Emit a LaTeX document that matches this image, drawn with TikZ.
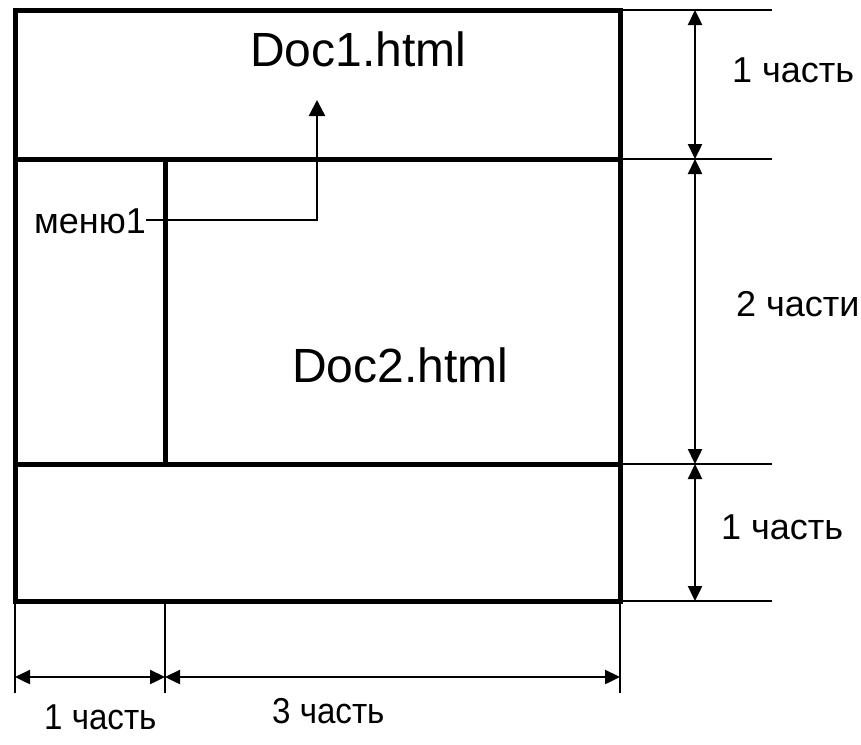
\documentclass[tikz,border=0pt]{standalone}
\usepackage{fontspec}
\setmainfont{Liberation Sans}
\usetikzlibrary{arrows.meta}

\begin{document}
\begin{tikzpicture}[x=1pt,y=-1pt,
  frame/.style={line width=5pt},
  guide/.style={line width=1.8pt},
  dimarrow/.style={line width=2.4pt,{Triangle[length=15pt,width=14pt]}-{Triangle[length=15pt,width=14pt]}},
  doc/.style={anchor=base west,inner sep=0pt,font=\fontsize{48}{52}\selectfont},
  part/.style={anchor=base west,inner sep=0pt,font=\fontsize{36}{40}\selectfont}]

\useasboundingbox (0,0) rectangle (861,744);

% frames
\coordinate (a1) at (15,10);   \coordinate (a2) at (620,10);
\coordinate (b1) at (15,159);  \coordinate (b2) at (620,159);
\coordinate (c1) at (15,464);  \coordinate (c2) at (620,464);
\coordinate (d1) at (15,601);  \coordinate (d2) at (620,601);
\coordinate (m1) at (165,159); \coordinate (m2) at (165,464);

\draw[frame] (a1) rectangle (d2);
\draw[frame] (b1) -- (b2);
\draw[frame] (c1) -- (c2);
\draw[frame] (m1) -- (m2);

\node[doc] (doc1) at (250,66) {Doc1.html};
\node[doc] (doc2) at (292,382) {Doc2.html};
\node[part,anchor=base east] (menu) at (146,233) {меню1};

\coordinate (bend) at (317,220);
\coordinate (target) at (317,100);
\draw[line width=2.4pt,-{Triangle[length=16pt,width=16pt]}] (menu.east |- bend) -- (bend) -- (target);

% right side
\coordinate (ra) at (772,10);  \coordinate (rb) at (772,159);
\coordinate (rc) at (772,464); \coordinate (rd) at (772,601);
\draw[guide] (a2) -- (ra);
\draw[guide] (b2) -- (rb);
\draw[guide] (c2) -- (rc);
\draw[guide] (d2) -- (rd);

\draw[dimarrow] (695,10) -- (695,159);
\draw[dimarrow] (695,159) -- (695,464);
\draw[dimarrow] (695,464) -- (695,601);

\node[part] (h1) at (732,82) {1 часть};
\node[part] (h2) at (736,316) {2 части};
\node[part] (h3) at (721,539) {1 часть};

% bottom side
\coordinate (la) at (15,693);  \coordinate (lb) at (165,693);
\coordinate (lc) at (620,693);
\draw[guide] (d1) -- (la);
\draw[guide] (165,601) -- (lb);
\draw[guide] (d2) -- (lc);

\draw[dimarrow] (15,677) -- (165,677);
\draw[dimarrow] (165,677) -- (620,677);

\node[part,xscale=0.92] (w1) at (44,729) {1 часть};
\node[part,xscale=0.92] (w2) at (272,723) {3 часть};

\end{tikzpicture}
\end{document}
